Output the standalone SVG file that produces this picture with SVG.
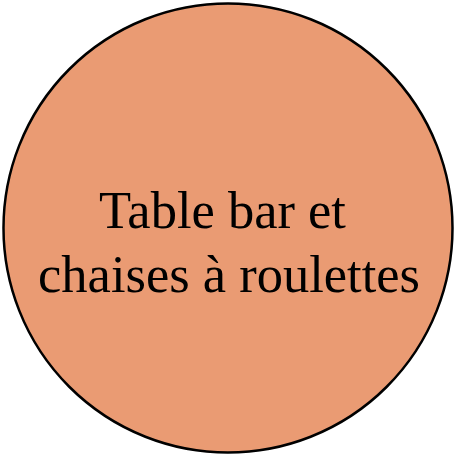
<svg xmlns="http://www.w3.org/2000/svg" width="456" height="456" viewBox="0 0 456 456">
<style>
.node-shape{fill:#EA9B73;stroke:#000;stroke-width:2.5}
.label{font-family:"Liberation Serif","Times New Roman",serif;font-size:52.5px;fill:#000;text-anchor:middle}
</style>
<g id="node1">
<circle class="node-shape" cx="228" cy="228" r="224.5"/>
<text class="label" xml:space="preserve"><tspan x="229" y="228">Table bar et </tspan><tspan x="229" y="292">chaises à roulettes</tspan></text>
</g>
<g id="connectors"/>
</svg>
